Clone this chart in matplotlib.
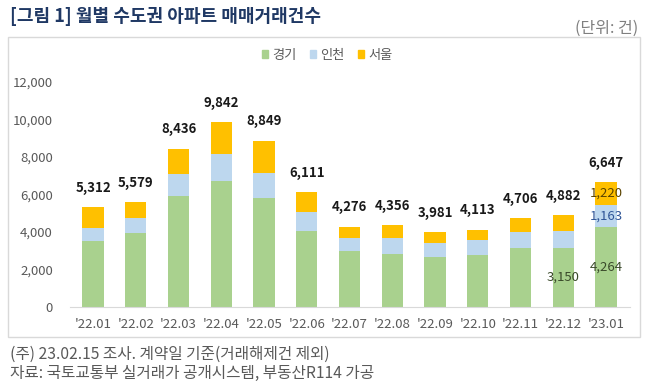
import numpy as np
import matplotlib
matplotlib.use("Agg")
import matplotlib.pyplot as plt
from matplotlib.patches import Rectangle, Patch

plt.rcParams['font.family'] = ['Noto Sans CJK KR', 'DejaVu Sans']

months = ["'22.01", "'22.02", "'22.03", "'22.04", "'22.05", "'22.06", "'22.07",
          "'22.08", "'22.09", "'22.10", "'22.11", "'22.12", "'23.01"]
gyeonggi = [3500, 3950, 5900, 6690, 5810, 4040, 2970, 2800, 2670, 2760, 3150, 3150, 4264]
incheon = [710, 800, 1160, 1440, 1330, 1000, 680, 850, 710, 800, 820, 900, 1163]
seoul = [1102, 829, 1376, 1712, 1709, 1071, 626, 706, 601, 553, 736, 832, 1220]
totals = [5312, 5579, 8436, 9842, 8849, 6111, 4276, 4356, 3981, 4113, 4706, 4882, 6647]
yticks = [0, 2000, 4000, 6000, 8000, 10000, 12000]

c_green = '#A9D18E'
c_blue = '#BDD7EE'
c_yellow = '#FFC000'

W, H = 658, 390
fig = plt.figure(figsize=(W / 100, H / 100), dpi=100)

def fx(px):
    return px / W

def fy(py):
    return 1 - py / H

# chart frame
fig.patches.append(Rectangle((fx(8), fy(337)), fx(632), (337 - 37) / H,
                             transform=fig.transFigure, fill=False,
                             edgecolor='#D9D9D9', linewidth=1))

ax = fig.add_axes([fx(69.5), fy(306.7), fx(560), 225 / H])
x = np.arange(len(months))
g = np.array(gyeonggi)
i = np.array(incheon)
s = np.array(seoul)
ax.bar(x, g, width=0.5, color=c_green)
ax.bar(x, i, width=0.5, bottom=g, color=c_blue)
ax.bar(x, s, width=0.5, bottom=g + i, color=c_yellow)

for k, t in enumerate(totals):
    ax.annotate(f"{t:,}", (x[k], g[k] + i[k] + s[k]), xytext=(0, 14),
                textcoords='offset points', ha='center', va='center',
                fontsize=9.5, fontweight='bold', color='#1a1a1a')

# segment labels for last two months
ax.text(x[11], g[11] / 2, f"{gyeonggi[11]:,}", ha='center', va='center', fontsize=9.5, color='#3a4a2a')
ax.text(x[12], g[12] / 2, f"{gyeonggi[12]:,}", ha='center', va='center', fontsize=9.5, color='#3a4a2a')
ax.text(x[12], g[12] + i[12] / 2, f"{incheon[12]:,}", ha='center', va='center', fontsize=9.5, color='#2F5597')
ax.text(x[12], g[12] + i[12] + s[12] / 2, f"{seoul[12]:,}", ha='center', va='center', fontsize=9.5, color='#5a4300')

ax.set_xlim(-0.55, len(months) - 0.45)
ax.set_ylim(0, 12000)
ax.set_yticks(yticks)
ax.set_yticklabels([f"{v:,}" for v in yticks])
ax.set_xticks(x)
ax.set_xticklabels(months)
ax.tick_params(axis='both', length=0, labelsize=9.5, colors='#595959')
ax.tick_params(axis='y', pad=12)
ax.tick_params(axis='x', pad=8)
for sp in ['top', 'right', 'left']:
    ax.spines[sp].set_visible(False)
ax.spines['bottom'].set_color('#D9D9D9')
ax.patch.set_visible(False)

handles = [Patch(color=c_green, label='경기'), Patch(color=c_blue, label='인천'),
           Patch(color=c_yellow, label='서울')]
fig.legend(handles=handles, loc='center', bbox_to_anchor=(fx(327), fy(55)), ncol=3,
           frameon=False, fontsize=9.5, handlelength=0.5, handleheight=0.5,
           handletextpad=0.3, columnspacing=1.0, labelcolor='#595959')

fig.text(fx(10), fy(16), "[그림 1] 월별 수도권 아파트 매매거래건수", fontsize=13,
         fontweight='bold', color='#1F3864', va='center', ha='left')
fig.text(fx(638), fy(28), "(단위: 건)", fontsize=11.5, color='#7f7f7f', va='center', ha='right')
fig.text(fx(10), fy(354), "(주) 23.02.15 조사. 계약일 기준(거래해제건 제외)", fontsize=11.3,
         color='#595959', va='center', ha='left')
fig.text(fx(10), fy(373), "자료: 국토교통부 실거래가 공개시스템, 부동산R114 가공", fontsize=11.3,
         color='#595959', va='center', ha='left')

fig.savefig('out.png', dpi=100)
